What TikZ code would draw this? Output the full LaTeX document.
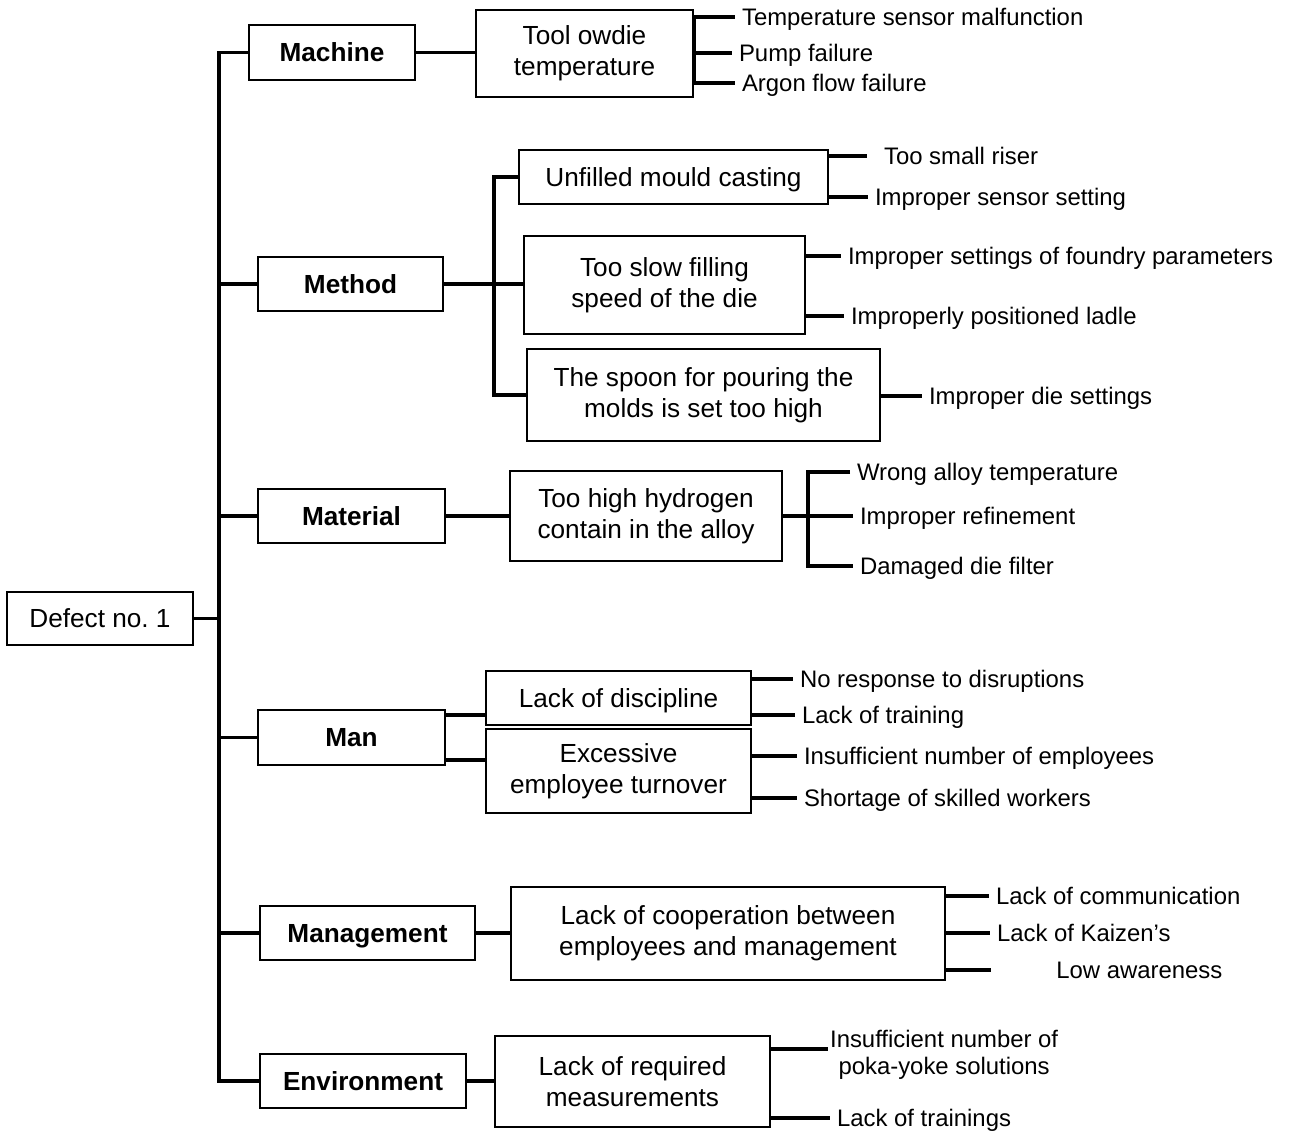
\documentclass[tikz,border=0pt]{standalone}
\usepackage{fontspec}
\setmainfont{Liberation Sans}
\begin{document}
\begin{tikzpicture}[x=0.02cm,y=-0.02cm,
  box/.style={draw,line width=1pt,align=center,inner sep=0pt,
    font=\fontsize{14.9}{17.6}\selectfont},
  single/.style={text height=10.7pt,text depth=0pt},
  cat/.style={box,single,font=\fontsize{14.9}{17.6}\selectfont\bfseries},
  leaf/.style={anchor=west,inner xsep=3.8pt,inner ysep=0pt,
    text height=9.8pt,text depth=0pt,font=\fontsize{13.6}{15.3}\selectfont},
  bar/.style={line width=2pt}]
\useasboundingbox (0,0) rectangle (1293,1133);
\node[box,single,minimum width=3.72cm,minimum height=1.06cm] (defect) at (100,618.5) {Defect no.\ 1};
% categories
\node[cat,minimum width=3.32cm,minimum height=1.1cm] (machine) at (332,52.5) {Machine};
\node[cat,minimum width=3.7cm,minimum height=1.08cm] (method) at (350.5,284) {Method};
\node[cat,minimum width=3.74cm,minimum height=1.08cm] (material) at (351.5,516) {Material};
\node[cat,minimum width=3.74cm,minimum height=1.1cm] (man) at (351.5,737.5) {Man};
\node[cat,minimum width=4.3cm,minimum height=1.08cm] (management) at (367.5,933) {Management};
\node[cat,minimum width=4.12cm,minimum height=1.08cm] (environment) at (363,1081) {Environment};
% causes
\node[box,minimum width=4.34cm,minimum height=1.74cm] (tool) at (584.5,53.5) {Tool owdie\\temperature};
\node[box,single,minimum width=6.18cm,minimum height=1.08cm] (unfilled) at (673.5,177) {Unfilled mould casting};
\node[box,minimum width=5.62cm,minimum height=1.96cm] (slow) at (664.5,285) {Too slow filling\\speed of the die};
\node[box,minimum width=7.06cm,minimum height=1.84cm] (spoon) at (703.5,395) {The spoon for pouring the\\molds is set too high};
\node[box,minimum width=5.44cm,minimum height=1.8cm] (hydrogen) at (646,516) {Too high hydrogen\\contain in the alloy};
\node[box,single,minimum width=5.3cm,minimum height=1.08cm] (discipline) at (618.5,698) {Lack of discipline};
\node[box,minimum width=5.3cm,minimum height=1.68cm] (turnover) at (618.5,771) {Excessive\\employee turnover};
\node[box,minimum width=8.68cm,minimum height=1.86cm] (coop) at (728,933.5) {Lack of cooperation between\\employees and management};
\node[box,minimum width=5.5cm,minimum height=1.82cm] (measure) at (632.5,1081.5) {Lack of required\\measurements};
% sub-causes
\node[leaf] (t1) at (735,17) {Temperature sensor malfunction};
\node[leaf] (t2) at (732,53) {Pump failure};
\node[leaf] (t3) at (735,83) {Argon flow failure};
\node[leaf,inner xsep=9.5pt] (u1) at (867,156) {Too small riser};
\node[leaf] (u2) at (868,197) {Improper sensor setting};
\node[leaf] (s1) at (841,256) {Improper settings of foundry parameters};
\node[leaf] (s2) at (844,316) {Improperly positioned ladle};
\node[leaf] (p1) at (922,396) {Improper die settings};
\node[leaf] (h1) at (850,472) {Wrong alloy temperature};
\node[leaf] (h2) at (853,516) {Improper refinement};
\node[leaf] (h3) at (853,566) {Damaged die filter};
\node[leaf] (d1) at (793,679) {No response to disruptions};
\node[leaf] (d2) at (795,715) {Lack of training};
\node[leaf] (e1) at (797,756) {Insufficient number of employees};
\node[leaf] (e2) at (797,798) {Shortage of skilled workers};
\node[leaf] (c1) at (989,896) {Lack of communication};
\node[leaf] (c2) at (990,933) {Lack of Kaizen’s};
\node[leaf,inner xsep=37pt] (c3) at (991,970) {Low awareness};
\coordinate (pk) at (828,1049);
\node[anchor=west,align=center,inner sep=1pt,font=\fontsize{13.6}{15.3}\selectfont] (r1) at (828,1054.5) {Insufficient number of\\poka-yoke solutions};
\node[leaf] (r2) at (830,1118) {Lack of trainings};
% trunk
\coordinate (sp) at (219,618);
\draw[bar] (defect.east) -- (defect.east -| sp);
\draw[bar] (machine.west) -- (machine.west -| sp) -- (environment.west -| sp) -- (environment.west);
\foreach \n in {method,material,man,management}
  \draw[bar] (\n.west) -- (\n.west -| sp);
% category to cause
\coordinate (mb) at (494,284);
\coordinate (hb) at (808,516);
\coordinate (m1) at (0,715);
\coordinate (m2) at (0,760);
\draw[bar] (machine.east) -- (machine.east -| tool.west);
\draw[bar] (method.east) -- (method.east -| slow.west);
\draw[bar] (unfilled.west) -| (mb) |- (spoon.west);
\draw[bar] (material.east) -- (material.east -| hydrogen.west);
\draw[bar] (man.east |- m1) -- (discipline.west |- m1);
\draw[bar] (man.east |- m2) -- (turnover.west |- m2);
\draw[bar] (management.east) -- (management.east -| coop.west);
\draw[bar] (environment.east) -- (environment.east -| measure.west);
% cause to sub-cause
\draw[bar] (tool.east |- t1.west) -- (tool.east |- t3.west);
\foreach \n in {t1,t2,t3} \draw[bar] (tool.east |- \n.west) -- (\n.west);
\foreach \n in {u1,u2} \draw[bar] (unfilled.east |- \n.west) -- (\n.west);
\foreach \n in {s1,s2} \draw[bar] (slow.east |- \n.west) -- (\n.west);
\draw[bar] (spoon.east |- p1.west) -- (p1.west);
\draw[bar] (hydrogen.east) -- (h2.west);
\draw[bar] (h1.west) -| (hb) |- (h3.west);
\foreach \n in {d1,d2} \draw[bar] (discipline.east |- \n.west) -- (\n.west);
\foreach \n in {e1,e2} \draw[bar] (turnover.east |- \n.west) -- (\n.west);
\foreach \n in {c1,c2,c3} \draw[bar] (coop.east |- \n.west) -- (\n.west);
\draw[bar] (measure.east |- pk) -- (pk);
\draw[bar] (measure.east |- r2.west) -- (r2.west);
\end{tikzpicture}
\end{document}
